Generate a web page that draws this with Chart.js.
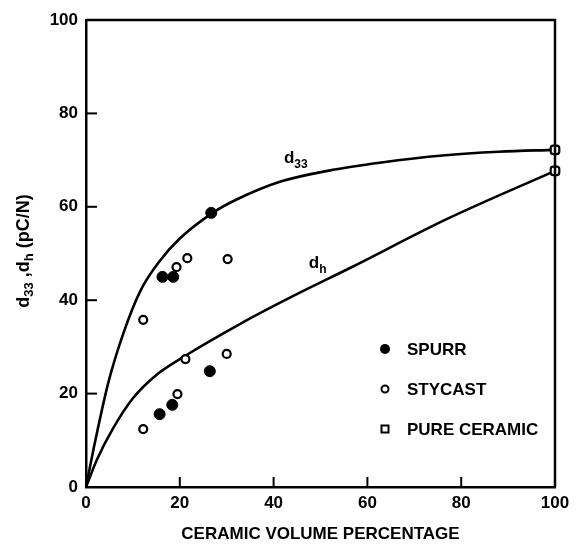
<!DOCTYPE html>
<html>
<head>
<meta charset="utf-8">
<script src="https://cdn.jsdelivr.net/npm/chart.js@4/dist/chart.umd.min.js"></script>
<style>
html, body { margin: 0; padding: 0; background: #fff; }
</style>
</head>
<body>
<canvas id="chart" width="576" height="551"></canvas>
<script>
// Tick values on both axes
const xTicks = [0, 20, 40, 60, 80, 100];
const yTicks = [0, 20, 40, 60, 80, 100];

// Fitted curves
const d33CurveX = [0, 2, 4.8, 8, 11.6, 15.8, 20, 27, 32, 41.5, 52, 63, 76, 88, 100];
const d33CurveY = [0, 10, 22.5, 33, 42, 48.5, 53.2, 58.7, 61.5, 65.4, 67.8, 69.5, 71, 71.8, 72.2];
const dhCurveX = [0, 2.3, 5.8, 10, 15, 21, 33, 44, 56.5, 77, 100];
const dhCurveY = [0, 5.8, 12.6, 19, 24, 28, 35, 40.8, 47, 57.4, 67.7];

// Measured points
const spurrX = [16.3, 18.6, 26.7, 15.7, 18.4, 26.4];
const spurrY = [45, 45, 58.7, 15.6, 17.6, 24.8];
const stycastX = [12.2, 19.3, 21.6, 30.2, 21.2, 30, 19.5, 12.2];
const stycastY = [35.8, 47.1, 49, 48.8, 27.4, 28.5, 19.9, 12.4];
const ceramicX = [100, 100];
const ceramicY = [72.2, 67.7];

const legendLabels = ['SPURR', 'STYCAST', 'PURE CERAMIC'];

const FONT = '"Liberation Sans", Arial, sans-serif';

function toPoints(xs, ys) {
    return xs.map((x, i) => ({ x: x, y: ys[i] }));
}

// Draw text with a subscript, returns the total width
function drawSubText(ctx, base, sub, x, y, size) {
    ctx.font = `bold ${size}px ${FONT}`;
    ctx.fillText(base, x, y);
    const w = ctx.measureText(base).width;
    ctx.font = `bold ${Math.round(size * 0.7)}px ${FONT}`;
    ctx.fillText(sub, x + w, y + size * 0.3);
    return w + ctx.measureText(sub).width;
}

const decorPlugin = {
    id: 'decor',
    afterDraw(chart) {
        const ctx = chart.ctx;
        const area = chart.chartArea;
        const xs = chart.scales.x;
        const ys = chart.scales.y;
        ctx.save();
        ctx.strokeStyle = '#000';
        ctx.fillStyle = '#000';
        ctx.lineWidth = 2.5;

        // frame top and right
        ctx.beginPath();
        ctx.moveTo(area.left, area.top);
        ctx.lineTo(area.right, area.top);
        ctx.lineTo(area.right, area.bottom);
        ctx.stroke();

        // inward ticks
        ctx.lineWidth = 2;
        xTicks.slice(1, -1).forEach(v => {
            const px = xs.getPixelForValue(v);
            ctx.beginPath();
            ctx.moveTo(px, area.bottom);
            ctx.lineTo(px, area.bottom - 10);
            ctx.stroke();
        });
        yTicks.slice(1, -1).forEach(v => {
            const py = ys.getPixelForValue(v);
            ctx.beginPath();
            ctx.moveTo(area.left, py);
            ctx.lineTo(area.left + 11, py);
            ctx.stroke();
        });

        // curve labels
        ctx.textAlign = 'left';
        ctx.textBaseline = 'alphabetic';
        drawSubText(ctx, 'd', '33', xs.getPixelForValue(42.2), ys.getPixelForValue(69.3), 17);
        drawSubText(ctx, 'd', 'h', xs.getPixelForValue(47.5), ys.getPixelForValue(47), 17);

        // legend
        const lx = area.left + 299;
        const tx = area.left + 321;
        const rows = [349, 389, 429];
        rows.forEach((ry, i) => {
            ctx.lineWidth = 2;
            if (i === 0) {
                ctx.beginPath();
                ctx.arc(lx, ry, 5, 0, Math.PI * 2);
                ctx.fill();
            } else if (i === 1) {
                ctx.beginPath();
                ctx.arc(lx, ry, 3.5, 0, Math.PI * 2);
                ctx.stroke();
            } else {
                ctx.strokeRect(lx - 3.5, ry - 3.5, 7, 7);
            }
            ctx.font = `bold 17px ${FONT}`;
            ctx.textBaseline = 'middle';
            ctx.fillText(legendLabels[i], tx, ry + 1);
        });

        // y axis title with subscripts
        ctx.translate(24, 251);
        ctx.rotate(-Math.PI / 2);
        ctx.textBaseline = 'middle';
        const parts = [['d', '33'], [' ,d', 'h'], [' (pC/N)', '']];
        let total = 0;
        parts.forEach(p => {
            ctx.font = `bold 18px ${FONT}`;
            total += ctx.measureText(p[0]).width;
            ctx.font = `bold 13px ${FONT}`;
            total += ctx.measureText(p[1]).width;
        });
        let cx = -total / 2;
        parts.forEach(p => {
            cx += drawSubText(ctx, p[0], p[1], cx, 0, 18);
        });
        ctx.restore();
    }
};

const ctx = document.getElementById('chart').getContext('2d');
new Chart(ctx, {
    type: 'scatter',
    data: {
        datasets: [
            {
                label: 'SPURR',
                data: toPoints(spurrX, spurrY),
                pointRadius: 5.5,
                pointBackgroundColor: '#000',
                pointBorderColor: '#000',
                pointBorderWidth: 1,
                order: 0
            },
            {
                label: 'STYCAST',
                data: toPoints(stycastX, stycastY),
                pointRadius: 4,
                pointBackgroundColor: '#fff',
                pointBorderColor: '#000',
                pointBorderWidth: 2.2,
                order: 0
            },
            {
                label: 'PURE CERAMIC',
                data: toPoints(ceramicX, ceramicY),
                pointStyle: 'rectRounded',
                pointRadius: 5,
                pointBackgroundColor: '#fff',
                pointBorderColor: '#000',
                pointBorderWidth: 2.2,
                order: 0
            },
            {
                label: 'd33',
                data: toPoints(d33CurveX, d33CurveY),
                showLine: true,
                pointRadius: 0,
                borderColor: '#000',
                borderWidth: 2.6,
                cubicInterpolationMode: 'monotone',
                order: 1
            },
            {
                label: 'dh',
                data: toPoints(dhCurveX, dhCurveY),
                showLine: true,
                pointRadius: 0,
                borderColor: '#000',
                borderWidth: 2.6,
                cubicInterpolationMode: 'monotone',
                order: 1
            }
        ]
    },
    options: {
        responsive: false,
        animation: false,
        clip: false,
        layout: { padding: { left: 0, top: 20, right: 21, bottom: 0 } },
        plugins: {
            legend: { display: false },
            tooltip: { enabled: false }
        },
        scales: {
            x: {
                type: 'linear',
                min: 0,
                max: 100,
                afterBuildTicks: scale => { scale.ticks = xTicks.map(v => ({ value: v })); },
                afterFit: scale => { scale.height = 64; },
                grid: { display: false, drawTicks: false },
                border: { display: true, color: '#000', width: 2.5 },
                ticks: {
                    color: '#000',
                    padding: 6,
                    maxRotation: 0,
                    font: { family: FONT, size: 17, weight: 'bold' }
                },
                title: {
                    display: true,
                    text: 'CERAMIC VOLUME PERCENTAGE',
                    color: '#000',
                    padding: { top: 0, bottom: 6 },
                    font: { family: FONT, size: 17, weight: 'bold' }
                }
            },
            y: {
                type: 'linear',
                min: 0,
                max: 100,
                afterBuildTicks: scale => { scale.ticks = yTicks.map(v => ({ value: v })); },
                afterFit: scale => { scale.width = 86; },
                grid: { display: false, drawTicks: false },
                border: { display: true, color: '#000', width: 2.5 },
                ticks: {
                    color: '#000',
                    padding: 8,
                    font: { family: FONT, size: 17, weight: 'bold' }
                }
            }
        }
    },
    plugins: [decorPlugin]
});
</script>
</body>
</html>
